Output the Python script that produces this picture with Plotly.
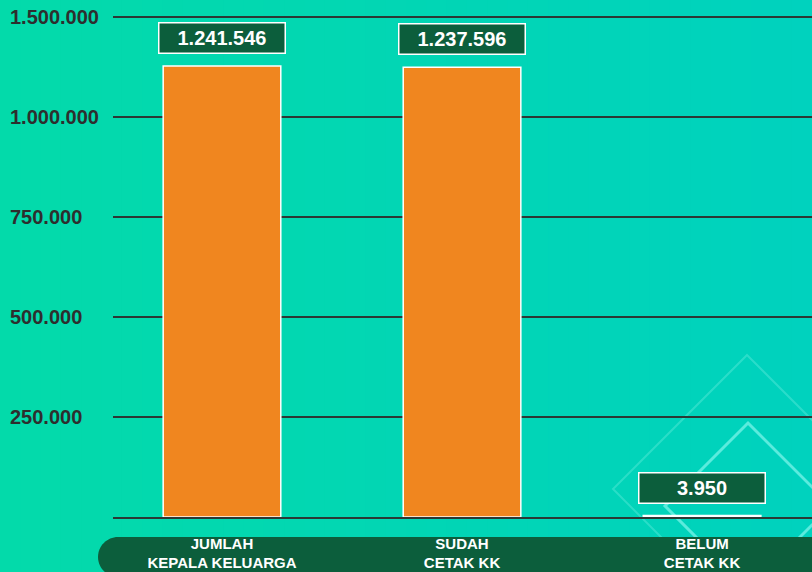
import plotly.graph_objects as go

# ---- data ----
categories = ["JUMLAH<br>KEPALA KELUARGA", "SUDAH<br>CETAK KK", "BELUM<br>CETAK KK"]
values = [1241546, 1237596, 3950]
tick_values = [0, 250000, 500000, 750000, 1000000, 1250000]
tick_labels = ["", "250.000", "500.000", "750.000", "1.000.000", "1.500.000"]

# ---- layout constants ----
W, H = 812, 572
ML, MR, MT, MB = 113, 0, 0, 55
PW, PH = W - ML - MR, H - MT - MB

ORANGE = "#F0861F"
DKGREEN = "#0C5E3C"
GRID = "#2B3935"
LABEL = "#2E2E2E"
FONT = "Liberation Sans, Arial, sans-serif"


def px(x):
    return (x - ML) / PW


def py(y):
    return (H - MB - y) / PH


def fmt(v):
    return f"{v:,}".replace(",", ".")


def lerp(c1, c2, t):
    a = [int(c1[i:i + 2], 16) for i in (1, 3, 5)]
    b = [int(c2[i:i + 2], 16) for i in (1, 3, 5)]
    return "rgb(%d,%d,%d)" % tuple(round(a[k] + (b[k] - a[k]) * t) for k in range(3))


fig = go.Figure()

fig.add_trace(go.Bar(
    x=categories, y=values, yaxis="y2",
    marker=dict(color=ORANGE, line=dict(color="white", width=1.5)),
    width=0.49, hoverinfo="skip",
))

shapes = []
# background gradient strips
N = 40
for i in range(N):
    x0 = i * W / N
    x1 = (i + 1) * W / N + 1
    shapes.append(dict(type="rect", xref="paper", yref="paper", layer="below",
                       x0=px(x0), x1=px(x1), y0=py(H + 5), y1=py(-5),
                       line=dict(width=0), fillcolor=lerp("#03DAAA", "#00D2BE", i / (N - 1))))

# decorative diamonds
def diamond(cx, cy, r):
    pts = [(cx, cy - r), (cx + r, cy), (cx, cy + r), (cx - r, cy)]
    d = "M " + " L ".join(f"{px(a)},{py(b)}" for a, b in pts) + " Z"
    return d

shapes.append(dict(type="path", xref="paper", yref="paper", layer="below",
                   path=diamond(747, 489, 134), line=dict(color="rgba(120,240,225,0.35)", width=2)))
shapes.append(dict(type="path", xref="paper", yref="paper", layer="below",
                   path=diamond(748, 506, 83), line=dict(color="rgba(130,245,235,0.7)", width=3)))

# bottom band (rounded left end)
band = (f"M {px(830)},{py(537)} L {px(118)},{py(537)} "
        f"C {px(107)},{py(537)} {px(98)},{py(546)} {px(98)},{py(557)} "
        f"C {px(98)},{py(568)} {px(107)},{py(577)} {px(118)},{py(577)} "
        f"L {px(830)},{py(577)} Z")
shapes.append(dict(type="path", xref="paper", yref="paper", layer="below",
                   path=band, fillcolor=DKGREEN, line=dict(width=0)))

annotations = []
# value boxes
for c, v in zip(categories, values):
    annotations.append(dict(
        x=c, y=v, xref="x", yref="y2", yanchor="bottom", yshift=12,
        text=fmt(v), showarrow=False,
        font=dict(family=FONT, size=20, color="white", weight="bold"),
        bgcolor=DKGREEN, bordercolor="white", borderwidth=1.5, borderpad=1,
        width=123, height=27,
    ))
# y tick labels, left aligned
for tv, tl in zip(tick_values, tick_labels):
    if not tl:
        continue
    annotations.append(dict(
        x=px(8), y=tv, xref="paper", yref="y", xanchor="left", yanchor="middle",
        text=tl, showarrow=False,
        font=dict(family=FONT, size=20, color=LABEL, weight="bold"),
    ))

fig.update_layout(
    width=W, height=H,
    margin=dict(l=ML, r=MR, t=MT, b=MB, pad=0, autoexpand=False),
    paper_bgcolor="#01D5B6",
    plot_bgcolor="rgba(0,0,0,0)",
    showlegend=False,
    shapes=shapes,
    annotations=annotations,
    xaxis=dict(
        type="category", range=[-0.454, 2.458], automargin=False,
        showgrid=False, zeroline=False,
        showline=True, linecolor=GRID, linewidth=1.5,
        ticks="", ticklabelstandoff=12,
        tickfont=dict(family=FONT, size=15, color="white", weight="bold"),
        fixedrange=True,
    ),
    yaxis=dict(
        range=[0, 1292500], tickvals=tick_values, showticklabels=False,
        showgrid=True, gridcolor=GRID, gridwidth=1.5, automargin=False,
        zeroline=False, showline=False, ticks="", fixedrange=True,
    ),
    yaxis2=dict(
        range=[0, 1423000], overlaying="y", side="left", automargin=False,
        showgrid=False, zeroline=False, showline=False,
        showticklabels=False, ticks="", fixedrange=True,
    ),
)

fig.write_html("out.html", config={"displayModeBar": False},
               post_script="document.body.style.margin='0';")
